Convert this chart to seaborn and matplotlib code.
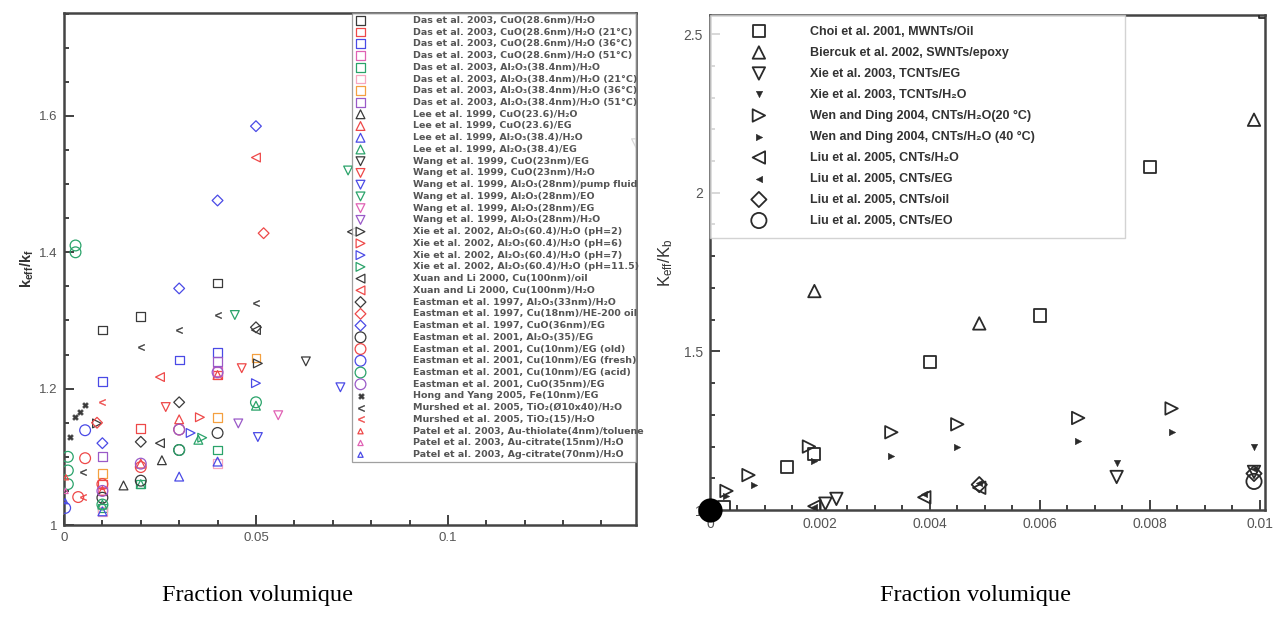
import matplotlib
matplotlib.use("Agg")
import matplotlib.pyplot as plt
import seaborn as sns
from matplotlib.ticker import MultipleLocator, FuncFormatter

# ---------------- LEFT PANEL DATA (nanofluids) ----------------
das_cuo_x = [0.01, 0.02, 0.04];          das_cuo_y = [1.286, 1.306, 1.355]
das_cuo21_x = [0.01, 0.02, 0.04];        das_cuo21_y = [1.06, 1.142, 1.22]
das_cuo36_x = [0.01, 0.03, 0.04];        das_cuo36_y = [1.21, 1.242, 1.253]
das_cuo51_x = [0.01, 0.04];              das_cuo51_y = [1.05, 1.225]
das_al_x = [0.01, 0.02, 0.04];           das_al_y = [1.025, 1.06, 1.11]
das_al21_x = [0.01, 0.04];               das_al21_y = [1.02, 1.09]
das_al36_x = [0.01, 0.04, 0.05];         das_al36_y = [1.075, 1.158, 1.245]
das_al51_x = [0.01, 0.04];               das_al51_y = [1.10, 1.24]
lee_cuo_w_x = [0.0155, 0.0255];          lee_cuo_w_y = [1.058, 1.095]
lee_cuo_eg_x = [0.01, 0.02, 0.03, 0.04]; lee_cuo_eg_y = [1.05, 1.09, 1.155, 1.22]
lee_al_w_x = [0.01, 0.03, 0.04];         lee_al_w_y = [1.02, 1.071, 1.093]
lee_al_eg_x = [0.01, 0.02, 0.035, 0.05]; lee_al_eg_y = [1.03, 1.06, 1.125, 1.175]
wang_cuo_eg_x = [0.063, 0.149];          wang_cuo_eg_y = [1.24, 1.56]
wang_cuo_w_x = [0.0265, 0.0463];         wang_cuo_w_y = [1.173, 1.23]
wang_al_pf_x = [0.0505, 0.072];          wang_al_pf_y = [1.129, 1.202]
wang_al_eo_x = [0.0445, 0.074];          wang_al_eo_y = [1.308, 1.52]
wang_al_eg_x = [0.0558];                 wang_al_eg_y = [1.161]
wang_al_w_x = [0.0454];                  wang_al_w_y = [1.149]
xie_ph2_x = [0.0086, 0.0505];            xie_ph2_y = [1.149, 1.237]
xie_ph6_x = [0.0354];                    xie_ph6_y = [1.158]
xie_ph7_x = [0.033, 0.05];               xie_ph7_y = [1.135, 1.208]
xie_ph11_x = [0.036];                    xie_ph11_y = [1.128]
xuan_oil_x = [0.025, 0.05, 0.075];       xuan_oil_y = [1.12, 1.286, 1.43]
xuan_w_x = [0.025, 0.05, 0.075];         xuan_w_y = [1.217, 1.539, 1.78]
e97_al_x = [0.02, 0.03, 0.05];           e97_al_y = [1.122, 1.18, 1.29]
e97_cu_x = [0.0086, 0.052];              e97_cu_y = [1.15, 1.428]
e97_cuo_x = [0.01, 0.03, 0.04, 0.05];    e97_cuo_y = [1.12, 1.347, 1.476, 1.585]
e01_al_x = [0.01, 0.02, 0.03, 0.04];     e01_al_y = [1.04, 1.065, 1.11, 1.135]
e01_old_x = [0.0037, 0.0055, 0.01, 0.02, 0.03]; e01_old_y = [1.041, 1.098, 1.06, 1.085, 1.14]
e01_fresh_x = [0.0003, 0.0055];          e01_fresh_y = [1.025, 1.139]
e01_acid_x = [0.001, 0.001, 0.001, 0.003, 0.003, 0.01, 0.03, 0.05]
e01_acid_y = [1.06, 1.08, 1.10, 1.40, 1.41, 1.03, 1.11, 1.18]
e01_cuo_x = [0.01, 0.02, 0.03, 0.04];    e01_cuo_y = [1.05, 1.09, 1.14, 1.224]
hong_x = [0.0016, 0.0029, 0.0042, 0.0055]; hong_y = [1.129, 1.158, 1.166, 1.176]
mur1_x = [0.005, 0.02, 0.03, 0.04, 0.05];  mur1_y = [1.078, 1.261, 1.286, 1.308, 1.325]
mur2_x = [0.005, 0.01];                  mur2_y = [1.041, 1.18]
patel1_x = [0.0005];                     patel1_y = [1.07]
patel2_x = [0.0004];                     patel2_y = [1.05]
patel3_x = [0.0003];                     patel3_y = [1.035]

left_labels = [
    "Das et al. 2003, CuO(28.6nm)/H₂O",
    "Das et al. 2003, CuO(28.6nm)/H₂O (21°C)",
    "Das et al. 2003, CuO(28.6nm)/H₂O (36°C)",
    "Das et al. 2003, CuO(28.6nm)/H₂O (51°C)",
    "Das et al. 2003, Al₂O₃(38.4nm)/H₂O",
    "Das et al. 2003, Al₂O₃(38.4nm)/H₂O (21°C)",
    "Das et al. 2003, Al₂O₃(38.4nm)/H₂O (36°C)",
    "Das et al. 2003, Al₂O₃(38.4nm)/H₂O (51°C)",
    "Lee et al. 1999, CuO(23.6)/H₂O",
    "Lee et al. 1999, CuO(23.6)/EG",
    "Lee et al. 1999, Al₂O₃(38.4)/H₂O",
    "Lee et al. 1999, Al₂O₃(38.4)/EG",
    "Wang et al. 1999, CuO(23nm)/EG",
    "Wang et al. 1999, CuO(23nm)/H₂O",
    "Wang et al. 1999, Al₂O₃(28nm)/pump fluid",
    "Wang et al. 1999, Al₂O₃(28nm)/EO",
    "Wang et al. 1999, Al₂O₃(28nm)/EG",
    "Wang et al. 1999, Al₂O₃(28nm)/H₂O",
    "Xie et al. 2002, Al₂O₃(60.4)/H₂O (pH=2)",
    "Xie et al. 2002, Al₂O₃(60.4)/H₂O (pH=6)",
    "Xie et al. 2002, Al₂O₃(60.4)/H₂O (pH=7)",
    "Xie et al. 2002, Al₂O₃(60.4)/H₂O (pH=11.5)",
    "Xuan and Li 2000, Cu(100nm)/oil",
    "Xuan and Li 2000, Cu(100nm)/H₂O",
    "Eastman et al. 1997, Al₂O₃(33nm)/H₂O",
    "Eastman et al. 1997, Cu(18nm)/HE-200 oil",
    "Eastman et al. 1997, CuO(36nm)/EG",
    "Eastman et al. 2001, Al₂O₃(35)/EG",
    "Eastman et al. 2001, Cu(10nm)/EG (old)",
    "Eastman et al. 2001, Cu(10nm)/EG (fresh)",
    "Eastman et al. 2001, Cu(10nm)/EG (acid)",
    "Eastman et al. 2001, CuO(35nm)/EG",
    "Hong and Yang 2005, Fe(10nm)/EG",
    "Murshed et al. 2005, TiO₂(Ø10x40)/H₂O",
    "Murshed et al. 2005, TiO₂(15)/H₂O",
    "Patel et al. 2003, Au-thiolate(4nm)/toluene",
    "Patel et al. 2003, Au-citrate(15nm)/H₂O",
    "Patel et al. 2003, Ag-citrate(70nm)/H₂O",
]
left_xs = [das_cuo_x, das_cuo21_x, das_cuo36_x, das_cuo51_x, das_al_x, das_al21_x, das_al36_x, das_al51_x,
           lee_cuo_w_x, lee_cuo_eg_x, lee_al_w_x, lee_al_eg_x,
           wang_cuo_eg_x, wang_cuo_w_x, wang_al_pf_x, wang_al_eo_x, wang_al_eg_x, wang_al_w_x,
           xie_ph2_x, xie_ph6_x, xie_ph7_x, xie_ph11_x, xuan_oil_x, xuan_w_x,
           e97_al_x, e97_cu_x, e97_cuo_x, e01_al_x, e01_old_x, e01_fresh_x, e01_acid_x, e01_cuo_x,
           hong_x, mur1_x, mur2_x, patel1_x, patel2_x, patel3_x]
left_ys = [das_cuo_y, das_cuo21_y, das_cuo36_y, das_cuo51_y, das_al_y, das_al21_y, das_al36_y, das_al51_y,
           lee_cuo_w_y, lee_cuo_eg_y, lee_al_w_y, lee_al_eg_y,
           wang_cuo_eg_y, wang_cuo_w_y, wang_al_pf_y, wang_al_eo_y, wang_al_eg_y, wang_al_w_y,
           xie_ph2_y, xie_ph6_y, xie_ph7_y, xie_ph11_y, xuan_oil_y, xuan_w_y,
           e97_al_y, e97_cu_y, e97_cuo_y, e01_al_y, e01_old_y, e01_fresh_y, e01_acid_y, e01_cuo_y,
           hong_y, mur1_y, mur2_y, patel1_y, patel2_y, patel3_y]

# ---------------- RIGHT PANEL DATA (nanotubes) ----------------
choi_x = [0.00025, 0.0014, 0.0019, 0.004, 0.006, 0.008, 0.0101]
choi_y = [1.01, 1.135, 1.175, 1.465, 1.613, 2.08, 2.57]
bier_x = [0.0019, 0.0049, 0.0099];       bier_y = [1.69, 1.588, 2.23]
xie_eg_x = [0.0021, 0.0023, 0.0074, 0.0099]; xie_eg_y = [1.02, 1.035, 1.104, 1.12]
xie_w_x = [0.0074, 0.0099];              xie_w_y = [1.148, 1.20]
wen20_x = [0.0003, 0.0007, 0.0018, 0.0033, 0.0045, 0.0067, 0.0084]
wen20_y = [1.06, 1.11, 1.20, 1.245, 1.27, 1.29, 1.32]
wen40_x = [0.0003, 0.0008, 0.0019, 0.0033, 0.0045, 0.0067, 0.0084]
wen40_y = [1.045, 1.08, 1.155, 1.17, 1.20, 1.218, 1.246]
liu_w_x = [0.0019, 0.0039, 0.0049];      liu_w_y = [1.012, 1.04, 1.07]
liu_eg_x = [0.0019, 0.0039, 0.0049, 0.0099]; liu_eg_y = [1.01, 1.05, 1.085, 1.13]
liu_oil_x = [0.0049, 0.0099];            liu_oil_y = [1.08, 1.115]
liu_eo_x = [0.0099];                     liu_eo_y = [1.09]
origin_x = [0.0];                        origin_y = [1.0]

right_labels = [
    "Choi et al. 2001, MWNTs/Oil",
    "Biercuk et al. 2002, SWNTs/epoxy",
    "Xie et al. 2003, TCNTs/EG",
    "Xie et al. 2003, TCNTs/H₂O",
    "Wen and Ding 2004, CNTs/H₂O(20 °C)",
    "Wen and Ding 2004, CNTs/H₂O (40 °C)",
    "Liu et al. 2005, CNTs/H₂O",
    "Liu et al. 2005, CNTs/EG",
    "Liu et al. 2005, CNTs/oil",
    "Liu et al. 2005, CNTs/EO",
]
right_xs = [choi_x, bier_x, xie_eg_x, xie_w_x, wen20_x, wen40_x, liu_w_x, liu_eg_x, liu_oil_x, liu_eo_x]
right_ys = [choi_y, bier_y, xie_eg_y, xie_w_y, wen20_y, wen40_y, liu_w_y, liu_eg_y, liu_oil_y, liu_eo_y]

# ---------------- STYLE ----------------
K, R, B, G = "#3a3a3a", "#ee4848", "#4a4ae6", "#2aa36a"
M, P, O, LP = "#e062b4", "#9a5ac8", "#f4a040", "#f7a6c0"
left_colors = [K, R, B, M, G, LP, O, P,
               K, R, B, G,
               K, R, B, G, M, P,
               K, R, B, G,
               K, R,
               K, R, B,
               K, R, B, G, P,
               K, K, R, R, M, B]
left_markers = ["s"] * 8 + ["^"] * 4 + ["v"] * 6 + [">"] * 4 + ["<"] * 2 + ["D"] * 3 + ["o"] * 5 + \
               ["X", "$<$", "$<$", "^", "^", "^"]
left_filled = [False] * 32 + [True, True, True, False, False, False]
left_sizes = [40] * 24 + [30] * 3 + [60] * 5 + [18, 22, 22, 14, 14, 14]

right_markers = ["s", "^", "v", "v", ">", ">", "<", "<", "D", "o"]
right_filled = [False, False, False, True, False, True, False, True, False, False]
right_sizes = [75, 80, 80, 22, 80, 22, 80, 22, 60, 120]

sns.set_theme(style="white")
plt.rcParams["font.family"] = ["Liberation Sans", "DejaVu Sans"]
plt.rcParams["mathtext.default"] = "regular"

fig = plt.figure(figsize=(12.87, 6.25), dpi=100)
axL = fig.add_axes([64 / 1287, 100 / 625, 572 / 1287, 512 / 625])
axR = fig.add_axes([710 / 1287, 115 / 625, 555 / 1287, 495 / 625])


def draw(ax, x, y, marker, color, size, label, filled, lw=1.0):
    if filled:
        sns.scatterplot(x=x, y=y, ax=ax, marker=marker, s=size, color=color,
                        edgecolor=color, linewidth=0.3, label=label, legend=False, zorder=3)
    else:
        sns.scatterplot(x=x, y=y, ax=ax, marker=marker, s=size, color=color,
                        facecolor="none", edgecolor=color, linewidth=lw, label=label,
                        legend=False, zorder=3)


for x, y, m, c, s, f, lab in zip(left_xs, left_ys, left_markers, left_colors, left_sizes, left_filled, left_labels):
    draw(axL, x, y, m, c, s, lab, f, lw=0.9)

for x, y, m, s, f, lab in zip(right_xs, right_ys, right_markers, right_sizes, right_filled, right_labels):
    draw(axR, x, y, m, "#2a2a2a", s, lab, f, lw=1.3)

sns.scatterplot(x=origin_x, y=origin_y, ax=axR, s=260, color="black", edgecolor="black",
                legend=False, clip_on=False, zorder=6)

fmt = FuncFormatter(lambda v, p: "%g" % round(v, 6))

# left axes
axL.set_xlim(0, 0.149)
axL.set_ylim(1.0, 1.751)
axL.xaxis.set_major_locator(MultipleLocator(0.05))
axL.xaxis.set_minor_locator(MultipleLocator(0.01))
axL.yaxis.set_major_locator(MultipleLocator(0.2))
axL.yaxis.set_minor_locator(MultipleLocator(0.05))
axL.set_ylabel("k$_{eff}$/k$_f$", fontsize=10.5, fontweight="bold", color="#333", labelpad=2)
axL.set_xlabel("")

# right axes
axR.set_xlim(0, 0.0101)
axR.set_ylim(1.0, 2.56)
axR.xaxis.set_major_locator(MultipleLocator(0.002))
axR.xaxis.set_minor_locator(MultipleLocator(0.0005))
axR.yaxis.set_major_locator(MultipleLocator(0.5))
axR.yaxis.set_minor_locator(MultipleLocator(0.1))
axR.set_ylabel("K$_{eff}$/K$_b$", fontsize=12, color="#333", labelpad=6)
axR.set_xlabel("")

for ax, ls in ((axL, 9.5), (axR, 10)):
    ax.xaxis.set_major_formatter(fmt)
    ax.yaxis.set_major_formatter(fmt)
    ax.tick_params(which="both", direction="in", bottom=True, left=True, top=False, right=False,
                   color="#333", width=1.3)
    ax.tick_params(which="major", length=7, labelsize=ls, labelcolor="#555", pad=5)
    ax.tick_params(which="minor", length=3.5)
    for sp in ax.spines.values():
        sp.set_color("#444")
        sp.set_linewidth(1.8)
        sp.set_visible(True)

# legends
hL, lL = axL.get_legend_handles_labels()
legL = axL.legend(hL, lL, loc="upper left", bbox_to_anchor=(0.5035, 0.0, 0.4965, 1.0), mode="expand",
                  borderaxespad=0, frameon=True, fancybox=False, edgecolor="#888",
                  prop={"family": "DejaVu Sans", "size": 6.8, "weight": "bold"},
                  handlelength=1.2, handletextpad=5.0,
                  borderpad=0.3, labelspacing=0.29, scatterpoints=1)
legL.get_frame().set_linewidth(0.9)
for t in legL.get_texts():
    t.set_color("#555")

hR, lR = axR.get_legend_handles_labels()
legR = axR.legend(hR, lR, loc="upper left", bbox_to_anchor=(0.0, 0.0, 0.748, 1.0), mode="expand",
                  borderaxespad=0, frameon=True, fancybox=False, edgecolor="#c8c8c8",
                  prop={"size": 9, "weight": "bold"}, handlelength=6.1, handletextpad=1.04,
                  borderpad=0.86, labelspacing=0.72, scatterpoints=1)
legR.get_frame().set_linewidth(1.0)
for t in legR.get_texts():
    t.set_color("#333")

fig.text(258 / 1287, 0.048, "Fraction volumique", ha="center", va="center",
         family="Liberation Serif", fontsize=17.5, color="black")
fig.text(976 / 1287, 0.048, "Fraction volumique", ha="center", va="center",
         family="Liberation Serif", fontsize=17.5, color="black")

fig.savefig("out.png", dpi=100, facecolor="white")
